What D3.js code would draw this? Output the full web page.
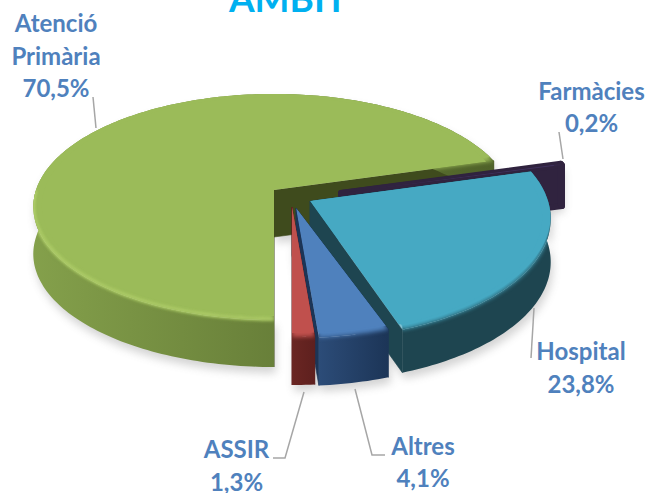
<!DOCTYPE html>
<html><head><meta charset="utf-8">
<script src="https://cdn.jsdelivr.net/npm/d3@7"></script>
<style>html,body{margin:0;padding:0;background:#fff;overflow:hidden}svg{display:block}</style>
</head><body><svg id="c" width="649" height="493"></svg>
<script>
const categories = ["Atenció Primària","Farmàcies","Hospital","Altres","ASSIR"];
const values = [70.5,0.2,23.8,4.1,1.3];
const labelLines = [["Atenció","Primària","70,5%"],["Farmàcies","0,2%"],["Hospital","23,8%"],["Altres","4,1%"],["ASSIR","1,3%"]];
const topColors = ["#9BBB59","#3D2F58","#46A9C3","#4F81BD","#C0504D"];
const sideFrom = ["#84A04B","#30233F","#1E4550","#2C4C78","#6A2623"];
const sideTo = ["#4F6229","#30233F","#1E4550","#1C3557","#5E201E"];
const wallColors = ["#3F4B1D","#30233F","#1E4550","#1C3557","#5E201E"];
// layout
const cx=274, cy=190, a=238, b=110.5, p=0.15;
const depths=[47,41,43,48,48];
const explode=[[0,0],[67,3],[36,11],[22,18],[18,17]];
const stretchY=[1,1,1.06,1,1];
const labelAnchor=[[56,32],[591.5,100],[581,360],[423,455],[236.5,458]];
const leaders=[[[93,97],[96,128]],[[559,132],[563,159]],[[534,308],[531,358]],[[355,389],[372,455],[385,455]],[[304,392],[285,458],[273,458]]];
const lineGap=[32.5,32,33,32,33];

const svg=d3.select("#c");
const defs=svg.append("defs");
const addBlur=(id,sd)=>defs.append("filter").attr("id",id).attr("x","-10%").attr("y","-10%").attr("width","120%").attr("height","130%")
  .attr("color-interpolation-filters","sRGB").append("feGaussianBlur").attr("stdDeviation",sd);
addBlur("soft",2.3);
addBlur("glow",1.6);
addBlur("shadow",4);

const arcs=d3.pie().sort(null).startAngle(Math.PI).endAngle(3*Math.PI)(values);
const project=(t,r,i)=>{const u=r*Math.sin(t),v=-r*Math.cos(t),k=1/(1-p*v),s=explode[i];
  return [cx+s[0]+a*u*k,cy+s[1]+b*v*k*stretchY[i]];};
const line=d3.line();

const faces=arcs.map((d,i)=>{
  const down=pt=>[pt[0],pt[1]+depths[i]];
  const n=Math.max(4,Math.ceil((d.endAngle-d.startAngle)/0.02));
  const ts=d3.range(n+1).map(j=>d.startAngle+(d.endAngle-d.startAngle)*j/n);
  const rim=ts.map(t=>project(t,1,i));
  const inner=ts.map(t=>project(t,0.965,i));
  const c=project(0,0,i);
  const front=rim.filter(q=>q[1]>c[1]);
  return {i,rim,c,front,
    top:line([c,...rim])+"Z",
    core:line([c,...inner])+"Z",
    band:line([...rim,...rim.slice().reverse().map(down)])+"Z",
    frontBand:front.length>1?line([...front,...front.slice().reverse().map(down)])+"Z":null,
    wallA:line([c,rim[0],down(rim[0]),down(c)])+"Z",
    wallB:line([c,rim[n],down(rim[n]),down(c)])+"Z"};
});

// soft ground shadow
const sh=svg.append("g").attr("filter","url(#shadow)").attr("opacity",0.25).attr("transform","translate(2,6)");
faces.forEach(f=>{[f.band,f.wallA,f.wallB].forEach(q=>sh.append("path").attr("d",q).attr("fill","#555"));});

faces.forEach(f=>{
  const i=f.i, xs=f.rim.map(q=>q[0]), gid="side"+i;
  const g=defs.append("linearGradient").attr("id",gid).attr("gradientUnits","userSpaceOnUse")
    .attr("x1",d3.min(xs)).attr("x2",d3.max(xs)).attr("y1",0).attr("y2",0);
  g.append("stop").attr("offset",0).attr("stop-color",sideFrom[i]);
  g.append("stop").attr("offset",1).attr("stop-color",sideTo[i]);
  const clipAll=defs.append("clipPath").attr("id","all"+i);
  [f.top,f.band].forEach(q=>clipAll.append("path").attr("d",q));
  defs.append("clipPath").attr("id","topc"+i).append("path").attr("d",f.top);

  const gr=svg.append("g").attr("class","slice");
  gr.append("path").attr("d",f.wallA).attr("fill",wallColors[i]).attr("stroke",wallColors[i]).attr("stroke-width",0.6);
  gr.append("path").attr("d",f.wallB).attr("fill",wallColors[i]).attr("stroke",wallColors[i]).attr("stroke-width",0.6);
  gr.append("path").attr("d",f.band).attr("fill",`url(#${gid})`);
  if(i===1){
    gr.selectAll("path").attr("stroke",wallColors[i]).attr("stroke-width",6).attr("stroke-linejoin","round");
  }
  if(f.frontBand){
    gr.append("g").attr("clip-path",`url(#topc${i})`).append("path").attr("d",f.frontBand)
      .attr("fill",`url(#${gid})`).attr("transform","translate(0,-6)");
  }
  gr.append("g").attr("clip-path",`url(#all${i})`).append("path").attr("d",f.top).attr("fill",topColors[i]).attr("filter","url(#soft)");
  const crisp=gr.append("g").attr("clip-path",`url(#topc${i})`);
  crisp.append("path").attr("d",f.top).attr("fill",topColors[i]).attr("transform","translate(0,-4)");
  crisp.append("path").attr("d",f.core).attr("fill",topColors[i]);
  if(i===0){
    gr.append("g").attr("clip-path",`url(#all${i})`).append("path").attr("d",line(f.front))
      .attr("fill","none").attr("stroke","#BEDD74").attr("stroke-width",2.6).attr("opacity",0.85)
      .attr("filter","url(#glow)").attr("transform","translate(0,-1)");
  }
});

// title, cropped by the top of the frame as in the reference
svg.append("text").attr("x",288).attr("y",12).attr("text-anchor","middle")
  .attr("font-family","Lato").attr("font-weight",700).attr("font-size",37).attr("fill","#00B0F0").text("ÀMBIT");

// leader lines
svg.selectAll("polyline.lead").data(leaders).join("polyline").attr("class","lead")
  .attr("points",d=>d.map(q=>q.join(",")).join(" ")).attr("fill","none").attr("stroke","#A6A6A6").attr("stroke-width",1.5);

// labels
const lab=svg.selectAll("text.lab").data(labelLines).join("text").attr("class","lab")
  .attr("text-anchor","middle").attr("font-family","Lato").attr("font-weight",700).attr("font-size",24).attr("fill","#4F81BD");
lab.each(function(d,i){
  d3.select(this).selectAll("tspan").data(d).join("tspan")
    .attr("x",labelAnchor[i][0]).attr("y",(t,j)=>labelAnchor[i][1]+j*lineGap[i]).text(t=>t);
});
</script></body></html>
